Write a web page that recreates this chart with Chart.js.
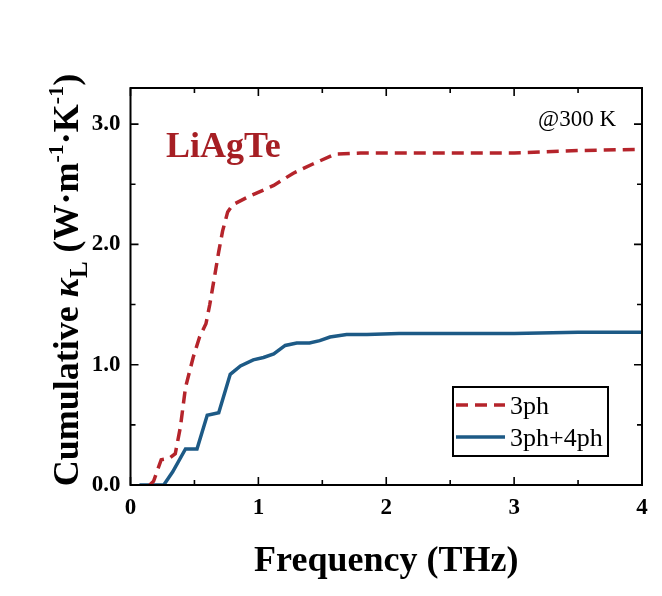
<!DOCTYPE html>
<html>
<head>
<meta charset="utf-8">
<script src="https://cdn.jsdelivr.net/npm/chart.js@4/dist/chart.umd.min.js"></script>
<style>
  html, body { margin: 0; padding: 0; background: #fff; }
  #wrap { width: 662px; height: 596px; }
</style>
</head>
<body>
<div id="wrap"><canvas id="grafico"></canvas></div>
<script>
// datos
const freq3ph = [0.15, 0.18, 0.24, 0.30, 0.35, 0.39, 0.43, 0.49, 0.54, 0.59, 0.62, 0.66, 0.69, 0.72, 0.76, 0.80, 0.93, 1.12, 1.27, 1.43, 1.60, 1.80, 2.5, 3.0, 3.5, 4.0];
const kappa3ph = [0.0, 0.03, 0.21, 0.22, 0.26, 0.48, 0.81, 1.06, 1.23, 1.34, 1.50, 1.75, 1.94, 2.11, 2.27, 2.33, 2.40, 2.49, 2.59, 2.67, 2.75, 2.76, 2.76, 2.76, 2.78, 2.79];
const freq4ph = [0.07, 0.26, 0.33, 0.43, 0.52, 0.60, 0.69, 0.78, 0.86, 0.96, 1.04, 1.12, 1.21, 1.30, 1.40, 1.48, 1.56, 1.69, 1.85, 2.1, 2.5, 3.0, 3.5, 4.0];
const kappa4ph = [0.0, 0.0, 0.11, 0.30, 0.30, 0.58, 0.60, 0.92, 0.99, 1.04, 1.06, 1.09, 1.16, 1.18, 1.18, 1.20, 1.23, 1.25, 1.25, 1.26, 1.26, 1.26, 1.27, 1.27];
const xTicks = [0, 1, 2, 3, 4];
const yTicks = [0, 1, 2, 3];
const serieNames = ["3ph", "3ph+4ph"];

const rojo = "#b5242b";
const azul = "#1d5a86";
const fuente = "'Liberation Serif', 'Times New Roman', serif";

const toPoints = (xs, ys) => xs.map((x, i) => ({ x: x, y: ys[i] }));

// marco, ticks hacia adentro, titulos y leyenda
const extras = {
  id: "extras",
  afterDraw(chart) {
    const c = chart.ctx;
    const xs = chart.scales.x;
    const ys = chart.scales.y;
    const a = chart.chartArea;
    c.save();
    c.strokeStyle = "#000";
    c.lineWidth = 2;
    c.strokeRect(a.left, a.top, a.right - a.left, a.bottom - a.top);
    c.lineWidth = 1.6;
    c.beginPath();
    for (let v = 0; v <= 4.001; v += 0.5) {
      const px = xs.getPixelForValue(v);
      const len = Number.isInteger(v) ? 8 : 5;
      c.moveTo(px, a.bottom); c.lineTo(px, a.bottom - len);
      c.moveTo(px, a.top); c.lineTo(px, a.top + len);
    }
    for (let v = 0; v <= 3.3; v += 0.5) {
      const py = ys.getPixelForValue(v);
      const len = Number.isInteger(v) ? 8 : 5;
      c.moveTo(a.left, py); c.lineTo(a.left + len, py);
      c.moveTo(a.right, py); c.lineTo(a.right - len, py);
    }
    c.stroke();

    // textos
    c.fillStyle = "#a61f24";
    c.font = "bold 36px " + fuente;
    c.textBaseline = "alphabetic";
    c.textAlign = "left";
    c.fillText("LiAgTe", 166, 157);
    c.fillStyle = "#000";
    c.font = "23px " + fuente;
    c.fillText("@300 K", 538, 126);

    // titulo eje x
    c.font = "bold 36px " + fuente;
    c.textAlign = "center";
    c.fillText("Frequency (THz)", (a.left + a.right) / 2, 571);

    // titulo eje y con sub y superindices
    const partes = [
      { t: "Cumulative ", f: "bold 36px " + fuente, dy: 0 },
      { t: "\u03ba", f: "italic bold 36px " + fuente, dy: 0 },
      { t: "L", f: "bold 25px " + fuente, dy: 9 },
      { t: " (W\u00b7m", f: "bold 36px " + fuente, dy: 0 },
      { t: "-1", f: "bold 22px " + fuente, dy: -15 },
      { t: "\u00b7K", f: "bold 36px " + fuente, dy: 0 },
      { t: "-1", f: "bold 22px " + fuente, dy: -15 },
      { t: ")", f: "bold 36px " + fuente, dy: 0 }
    ];
    let total = 0;
    partes.forEach(p => { c.font = p.f; p.w = c.measureText(p.t).width; total += p.w; });
    c.translate(78, 280);
    c.rotate(-Math.PI / 2);
    c.textAlign = "left";
    let cx = -total / 2;
    partes.forEach(p => { c.font = p.f; c.fillText(p.t, cx, p.dy); cx += p.w; });
    c.setTransform(1, 0, 0, 1, 0, 0);

    // leyenda
    c.lineWidth = 2;
    c.strokeRect(453, 387, 155, 69);
    c.lineWidth = 3.5;
    c.strokeStyle = rojo;
    c.setLineDash([12, 7]);
    c.beginPath(); c.moveTo(456, 405); c.lineTo(505, 405); c.stroke();
    c.setLineDash([]);
    c.strokeStyle = azul;
    c.beginPath(); c.moveTo(456, 437); c.lineTo(505, 437); c.stroke();
    c.fillStyle = "#000";
    c.font = "26px " + fuente;
    c.textBaseline = "alphabetic";
    c.fillText(serieNames[0], 510, 414);
    c.fillText(serieNames[1], 510, 446);
    c.restore();
  }
};

const ctx = document.querySelector("#grafico");
let myChart = new Chart(ctx, {
  type: "line",
  data: {
    datasets: [
      {
        label: serieNames[0],
        data: toPoints(freq3ph, kappa3ph),
        borderColor: rojo,
        borderWidth: 3.5,
        borderDash: [12, 7],
        pointRadius: 0,
        tension: 0,
        fill: false,
      },
      {
        label: serieNames[1],
        data: toPoints(freq4ph, kappa4ph),
        borderColor: azul,
        borderWidth: 3.5,
        pointRadius: 0,
        tension: 0,
        fill: false,
      },
    ],
  },
  options: {
    responsive: true,
    maintainAspectRatio: false,
    animation: false,
    layout: { padding: { top: 88, right: 20, left: 0, bottom: 0 } },
    plugins: {
      legend: { display: false },
      tooltip: { enabled: false },
    },
    scales: {
      x: {
        type: "linear",
        min: 0,
        max: 4,
        afterBuildTicks: (s) => { s.ticks = xTicks.map(v => ({ value: v })); },
        afterFit: (s) => { s.height = 111; },
        grid: { display: false, drawTicks: false },
        border: { display: false },
        ticks: {
          color: "#000",
          padding: 9,
          font: { family: fuente, size: 23, weight: "bold" },
          callback: (v) => String(v),
        },
      },
      y: {
        min: 0,
        max: 3.3,
        afterBuildTicks: (s) => { s.ticks = yTicks.map(v => ({ value: v })); },
        afterFit: (s) => { s.width = 130.5; },
        grid: { display: false, drawTicks: false },
        border: { display: false },
        ticks: {
          color: "#000",
          padding: 10,
          font: { family: fuente, size: 23, weight: "bold" },
          callback: (v) => Number(v).toFixed(1),
        },
      },
    },
  },
  plugins: [extras],
});
</script>
</body>
</html>
